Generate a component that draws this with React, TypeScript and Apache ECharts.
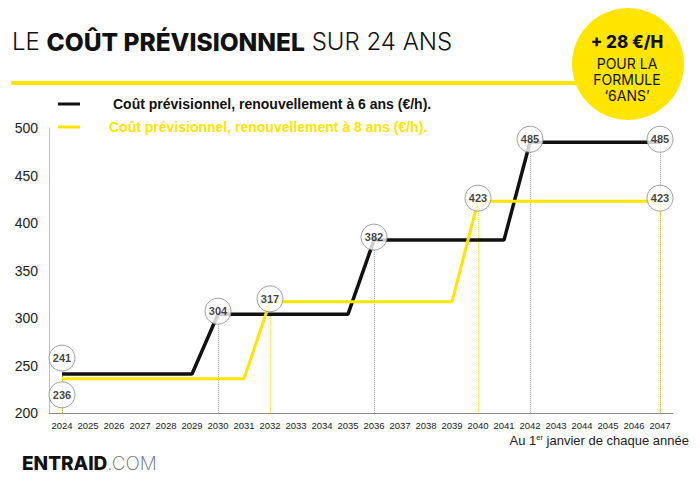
import React, { useEffect, useRef } from "react";
import * as echarts from "echarts";

const years = [
  "2024", "2025", "2026", "2027", "2028", "2029", "2030", "2031", "2032", "2033", "2034", "2035",
  "2036", "2037", "2038", "2039", "2040", "2041", "2042", "2043", "2044", "2045", "2046", "2047",
];
const cost6 = [
  241, 241, 241, 241, 241, 241, 304, 304, 304, 304, 304, 304,
  382, 382, 382, 382, 382, 382, 485, 485, 485, 485, 485, 485,
];
const cost8 = [
  236, 236, 236, 236, 236, 236, 236, 236, 317, 317, 317, 317,
  317, 317, 317, 317, 423, 423, 423, 423, 423, 423, 423, 423,
];
const labelYears6 = ["2024", "2030", "2036", "2042", "2047"];
const labelYears8 = ["2024", "2032", "2040", "2047"];
const yTicks = { min: 200, max: 500, interval: 50 };
const seriesNames = [
  "Coût prévisionnel, renouvellement à 6 ans (€/h).",
  "Coût prévisionnel, renouvellement à 8 ans (€/h).",
];

const YELLOW = "#FFE500";
const BLACK = "#111111";

export default function App() {
  const ref = useRef<HTMLDivElement>(null);
  useEffect(() => {
    if (!ref.current) return;
    const chart = echarts.init(ref.current, null, { renderer: "svg" });

    const circles = (ys: string[], vals: number[], firstOffset: number) =>
      ys.map((y, i) => {
        const v = vals[years.indexOf(y)];
        return {
          value: [y, v],
          symbolOffset: [0, i === 0 ? firstOffset : -3],
        };
      });
    const drops = (ys: string[], vals: number[]) =>
      ys.map((y) => [
        { coord: [y, vals[years.indexOf(y)]] },
        { coord: [y, yTicks.min] },
      ]);

    const circleStyle = {
      type: "scatter",
      symbol: "circle",
      symbolSize: 26,
      z: 10,
      itemStyle: { color: "#fff", borderColor: "#8a8a8a", borderWidth: 1 },
      label: {
        show: true,
        position: "inside",
        formatter: (p: any) => String(p.value[1]),
        color: "#111",
        fontFamily: "Liberation Sans, Arial",
        fontWeight: "bold",
        fontSize: 11,
      },
      emphasis: { disabled: true },
    };

    chart.setOption({
      animation: false,
      grid: { left: 49, right: 27, top: 128, bottom: 80, containLabel: false },
      xAxis: {
        type: "category",
        data: years,
        boundaryGap: true,
        axisLine: { lineStyle: { color: "#8a8a8a", width: 1 } },
        axisTick: { inside: true, length: 9, lineStyle: { color: "#555" } },
        axisLabel: {
          interval: 0,
          margin: 7,
          color: "#222",
          fontFamily: "Liberation Sans, Arial",
          fontSize: 9.5,
        },
        splitLine: { show: false },
      },
      yAxis: {
        type: "value",
        min: yTicks.min,
        max: yTicks.max,
        interval: yTicks.interval,
        axisLine: { show: true, lineStyle: { color: "#bdbdbd" } },
        axisTick: { show: false },
        splitLine: { show: false },
        axisLabel: {
          margin: 11,
          color: "#222",
          fontFamily: "Liberation Sans, Arial",
          fontSize: 14,
        },
      },
      series: [
        {
          name: seriesNames[0],
          type: "line",
          data: cost6,
          symbol: "none",
          lineStyle: { color: BLACK, width: 3.5 },
          z: 3,
          markLine: {
            silent: true,
            symbol: "none",
            label: { show: false },
            lineStyle: { color: "#999", type: "dotted", width: 1 },
            data: drops(labelYears6, cost6),
            z: 1,
          },
        },
        {
          name: seriesNames[1],
          type: "line",
          data: cost8,
          symbol: "none",
          lineStyle: { color: YELLOW, width: 3 },
          z: 4,
          markLine: {
            silent: true,
            symbol: "none",
            label: { show: false },
            lineStyle: { color: YELLOW, type: "dotted", width: 1 },
            data: drops(labelYears8, cost8),
            z: 1,
          },
        },
        { ...circleStyle, name: "c6", data: circles(labelYears6, cost6, -16) },
        { ...circleStyle, name: "c8", data: circles(labelYears8, cost8, 16) },
      ],
      graphic: [
        {
          type: "text",
          left: 12,
          top: 29,
          style: {
            text: "{r|LE }{b|COÛT PRÉVISIONNEL}{r| SUR 24 ANS}",
            rich: {
              r: { fontFamily: "Inter, Roboto, sans-serif", fontSize: 24, fontWeight: 300, fill: "#111" },
              b: { fontFamily: "Inter, Roboto, sans-serif", fontSize: 24.5, fontWeight: 800, fill: "#111" },
            },
          },
        },
        { type: "rect", shape: { x: 11, y: 81, width: 575, height: 4 }, style: { fill: YELLOW } },
        { type: "circle", shape: { cx: 628, cy: 64, r: 56 }, style: { fill: YELLOW } },
        {
          type: "text",
          x: 627,
          y: 42,
          style: {
            text: "+ 28 €/H",
            align: "center",
            verticalAlign: "middle",
            fontFamily: "Inter, Roboto, sans-serif",
            fontSize: 17,
            fontWeight: 800,
            fill: "#111",
          },
        },
        {
          type: "text",
          x: 627,
          y: 79,
          style: {
            text: "POUR LA\nFORMULE\n‘6ANS’",
            align: "center",
            verticalAlign: "middle",
            lineHeight: 16,
            fontFamily: "Inter, Roboto, sans-serif",
            fontSize: 14,
            fontWeight: 400,
            fill: "#111",
          },
        },
        { type: "line", shape: { x1: 58, y1: 104, x2: 80, y2: 104 }, style: { stroke: BLACK, lineWidth: 3 } },
        {
          type: "text",
          x: 113,
          y: 104,
          style: {
            text: seriesNames[0],
            verticalAlign: "middle",
            fontFamily: "Liberation Sans, Arial",
            fontWeight: "bold",
            fontSize: 14,
            fill: "#111",
          },
        },
        { type: "line", shape: { x1: 58, y1: 127, x2: 80, y2: 127 }, style: { stroke: YELLOW, lineWidth: 3 } },
        {
          type: "text",
          x: 109,
          y: 127,
          style: {
            text: seriesNames[1],
            verticalAlign: "middle",
            fontFamily: "Liberation Sans, Arial",
            fontWeight: "bold",
            fontSize: 14,
            fill: YELLOW,
          },
        },
        {
          type: "text",
          x: 689,
          y: 440,
          style: {
            text: "{a|Au 1}{s|er}{a| janvier de chaque année}",
            align: "right",
            verticalAlign: "middle",
            rich: {
              a: { fontFamily: "Liberation Sans, Arial", fontSize: 13, fill: "#222" },
              s: { fontFamily: "Liberation Sans, Arial", fontSize: 7.5, fill: "#222", verticalAlign: "top", padding: [0, 0, 6, 0] },
            },
          },
        },
        {
          type: "text",
          x: 22,
          y: 463,
          style: {
            text: "{b|ENTRAID}{t|.COM}",
            verticalAlign: "middle",
            rich: {
              b: { fontFamily: "Inter, Roboto, sans-serif", fontSize: 19, fontWeight: 800, fill: "#111" },
              t: { fontFamily: "Inter, Roboto, sans-serif", fontSize: 19, fontWeight: 200, fill: "#666" },
            },
          },
        },
      ],
    });
    return () => chart.dispose();
  }, []);
  return (
    <div
      ref={ref}
      style={{ position: "fixed", left: 0, top: 0, width: 700, height: 493, background: "#fff" }}
    />
  );
}
